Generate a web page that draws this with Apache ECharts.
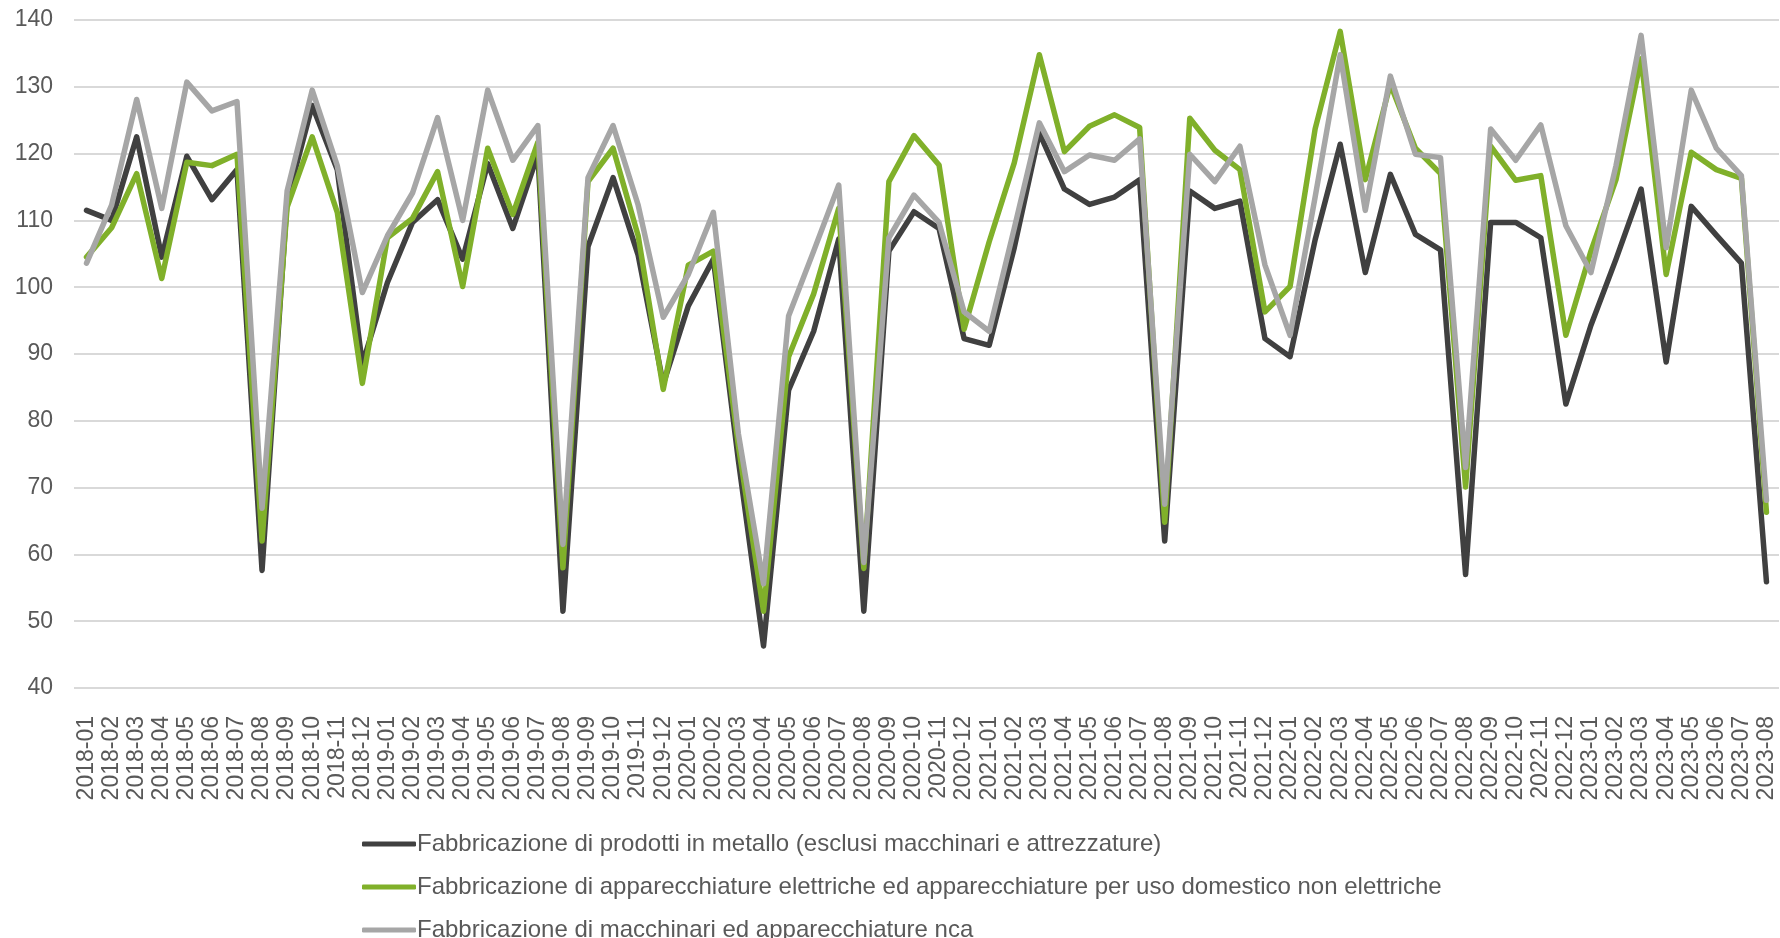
<!DOCTYPE html>
<html>
<head>
<meta charset="utf-8">
<script src="https://cdn.jsdelivr.net/npm/echarts@6/dist/echarts.min.js"></script>
<style>
html,body{margin:0;padding:0;background:#fff;}
#chart{width:1780px;height:938px;}
</style>
</head>
<body>
<div id="chart"></div>
<script>
const categories = [
 "2018-01","2018-02","2018-03","2018-04","2018-05","2018-06","2018-07","2018-08","2018-09","2018-10","2018-11","2018-12",
 "2019-01","2019-02","2019-03","2019-04","2019-05","2019-06","2019-07","2019-08","2019-09","2019-10","2019-11","2019-12",
 "2020-01","2020-02","2020-03","2020-04","2020-05","2020-06","2020-07","2020-08","2020-09","2020-10","2020-11","2020-12",
 "2021-01","2021-02","2021-03","2021-04","2021-05","2021-06","2021-07","2021-08","2021-09","2021-10","2021-11","2021-12",
 "2022-01","2022-02","2022-03","2022-04","2022-05","2022-06","2022-07","2022-08","2022-09","2022-10","2022-11","2022-12",
 "2023-01","2023-02","2023-03","2023-04","2023-05","2023-06","2023-07","2023-08"
];

const seriesNames = [
 "Fabbricazione di prodotti in metallo (esclusi macchinari e attrezzature)",
 "Fabbricazione di apparecchiature elettriche ed apparecchiature per uso domestico non elettriche",
 "Fabbricazione di macchinari ed apparecchiature nca"
];

const metallo = [
 111.5,110.0,122.5,104.5,119.6,113.1,117.6,57.6,113.0,127.2,117.6,88.5,
 100.7,109.7,113.1,104.2,118.5,108.8,119.9,51.5,106.1,116.4,104.8,85.5,
 97.2,104.2,74.0,46.3,84.6,93.4,107.2,51.5,105.4,111.3,108.8,92.3,
 91.3,105.9,123.1,114.7,112.4,113.5,116.1,62.0,114.4,111.8,112.9,92.3,
 89.6,107.1,121.4,102.2,116.9,107.9,105.6,57.0,109.7,109.7,107.4,82.5,
 94.3,104.2,114.7,88.8,112.1,107.8,103.6,55.9
];

const elettriche = [
 104.5,108.9,117.0,101.3,118.7,118.2,119.9,62.0,112.0,122.5,111.2,85.6,
 107.4,110.3,117.3,100.1,120.8,110.9,121.7,58.0,115.8,120.8,107.7,84.7,
 103.3,105.4,76.2,51.5,89.6,99.0,111.8,57.9,115.8,122.7,118.3,93.7,
 106.8,118.6,134.8,120.3,124.1,125.8,123.9,64.8,125.3,120.5,117.6,96.3,
 100.1,123.7,138.3,116.1,130.4,120.8,117.0,70.1,121.1,116.0,116.7,92.8,
 105.4,116.1,134.2,101.9,120.2,117.6,116.3,66.3
];

const macchinari = [
 103.6,112.3,128.1,111.8,130.7,126.4,127.8,66.9,114.4,129.5,118.2,99.2,
 107.7,114.1,125.4,110.0,129.5,119.0,124.2,61.5,116.4,124.2,112.3,95.5,
 101.9,111.2,78.0,55.6,95.7,105.4,115.3,58.8,107.4,113.8,109.7,96.3,
 93.4,108.8,124.6,117.3,119.8,119.0,122.2,67.5,119.9,115.8,121.1,103.3,
 92.8,113.5,134.8,111.5,131.6,119.9,119.4,73.0,123.7,119.0,124.3,109.2,
 102.2,118.2,137.7,105.9,129.5,120.8,116.7,68.1
];

const colors = ["#404040", "#80B02A", "#A6A6A6"];
const FONT = "Liberation Sans, Arial, sans-serif";
const TXT = "#595959";

const chart = echarts.init(document.getElementById('chart'), null, {renderer: 'canvas'});

function mkSeries(name, data, color) {
  return {
    name: name,
    type: 'line',
    data: data,
    symbol: 'none',
    smooth: false,
    lineStyle: {color: color, width: 5.5, cap: 'round', join: 'round'},
    itemStyle: {color: color},
    emphasis: {disabled: true},
    animation: false
  };
}

chart.setOption({
  animation: false,
  backgroundColor: '#ffffff',
  grid: {left: 74, right: 1, top: 20, height: 668, containLabel: false},
  legend: {
    orient: 'vertical',
    left: 357,
    top: 827,
    height: 200,
    itemWidth: 54,
    itemHeight: 5,
    itemGap: 19,
    icon: 'roundRect',
    textStyle: {fontFamily: FONT, fontSize: 24, color: TXT, padding: [0,0,0,-4]},
    data: seriesNames
  },
  xAxis: {
    type: 'category',
    data: categories,
    boundaryGap: true,
    axisLine: {show: false},
    axisTick: {show: false},
    axisLabel: {
      rotate: 90,
      interval: 0,
      margin: 28,
      fontFamily: FONT,
      fontSize: 23,
      color: TXT
    },
    splitLine: {show: false}
  },
  yAxis: {
    type: 'value',
    min: 40,
    max: 140,
    interval: 10,
    axisLine: {show: false},
    axisTick: {show: false},
    axisLabel: {margin: 21, fontFamily: FONT, fontSize: 23, color: TXT},
    splitLine: {show: true, lineStyle: {color: '#D9D9D9', width: 2}}
  },
  series: [
    mkSeries(seriesNames[0], metallo, colors[0]),
    mkSeries(seriesNames[1], elettriche, colors[1]),
    mkSeries(seriesNames[2], macchinari, colors[2])
  ]
});
</script>
</body>
</html>
